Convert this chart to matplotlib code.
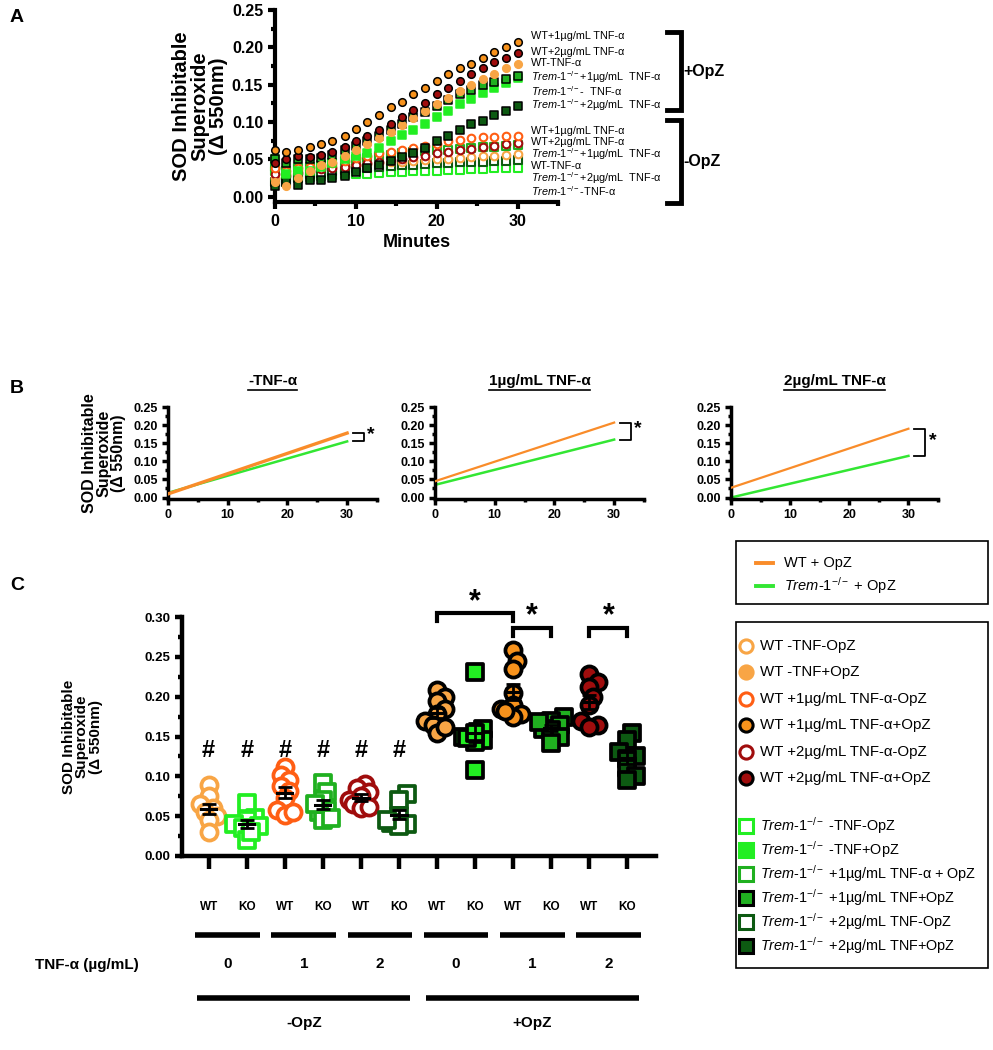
import numpy as np
import matplotlib
matplotlib.use("Agg")
import matplotlib.pyplot as plt
import matplotlib.transforms as mtransforms
from matplotlib.lines import Line2D
from matplotlib.patches import Rectangle
from matplotlib.ticker import MultipleLocator

plt.rcParams['font.family'] = ['Liberation Sans', 'DejaVu Sans']
plt.rcParams['mathtext.fontset'] = 'custom'
plt.rcParams['mathtext.rm'] = 'Liberation Sans'
plt.rcParams['mathtext.it'] = 'Liberation Sans:italic'
plt.rcParams['mathtext.bf'] = 'Liberation Sans:bold'

# colours
c_lo = '#F8A545'   # light orange  (WT -TNF)
c_or = '#FF5E14'   # orange-red    (WT +1ug open)
c_of = '#F7921C'   # orange fill   (WT +1ug +OpZ)
c_dr = '#A00D0D'   # dark red      (WT +2ug)
c_bg = '#22EE22'   # bright green  (KO -TNF)
c_mg = '#20B020'   # mid green     (KO +1ug)
c_dg = '#0D5A12'   # dark green    (KO +2ug)

# ---------------- panel A data ----------------
minutes = [0, 1.4, 2.9, 4.3, 5.7, 7.1, 8.6, 10, 11.4, 12.9, 14.3, 15.7,
           17.1, 18.6, 20, 21.4, 22.9, 24.3, 25.7, 27.1, 28.6, 30]
wt1_opz = [0.062, 0.060, 0.063, 0.066, 0.070, 0.075, 0.082, 0.091, 0.100, 0.110, 0.120,
           0.127, 0.137, 0.146, 0.155, 0.164, 0.172, 0.178, 0.186, 0.194, 0.200, 0.207]
wt2_opz = [0.045, 0.050, 0.055, 0.053, 0.056, 0.060, 0.066, 0.075, 0.082, 0.090, 0.098,
           0.107, 0.116, 0.125, 0.137, 0.145, 0.155, 0.164, 0.173, 0.180, 0.186, 0.193]
wt0_opz = [0.020, 0.015, 0.025, 0.035, 0.042, 0.047, 0.055, 0.062, 0.070, 0.078, 0.087,
           0.096, 0.106, 0.115, 0.124, 0.132, 0.141, 0.150, 0.158, 0.165, 0.172, 0.178]
ko1_opz = [0.050, 0.045, 0.050, 0.050, 0.052, 0.056, 0.063, 0.068, 0.075, 0.082, 0.090,
           0.098, 0.107, 0.114, 0.121, 0.129, 0.137, 0.143, 0.149, 0.154, 0.158, 0.162]
ko0_opz = [0.050, 0.030, 0.035, 0.035, 0.040, 0.045, 0.050, 0.055, 0.058, 0.065, 0.075,
           0.083, 0.090, 0.098, 0.107, 0.115, 0.124, 0.131, 0.139, 0.146, 0.152, 0.159]
ko2_opz = [0.015, 0.020, 0.016, 0.022, 0.023, 0.025, 0.028, 0.033, 0.038, 0.043, 0.048,
           0.053, 0.058, 0.065, 0.075, 0.082, 0.090, 0.097, 0.101, 0.110, 0.115, 0.122]
wt1_no = [0.038, 0.035, 0.038, 0.040, 0.042, 0.045, 0.048, 0.052, 0.055, 0.058, 0.060,
          0.063, 0.065, 0.068, 0.071, 0.074, 0.076, 0.078, 0.080, 0.080, 0.081, 0.082]
wt2_no = [0.030, 0.028, 0.032, 0.035, 0.037, 0.039, 0.040, 0.042, 0.045, 0.047, 0.049,
          0.051, 0.053, 0.055, 0.058, 0.060, 0.062, 0.064, 0.066, 0.068, 0.070, 0.072]
ko1_no = [0.040, 0.035, 0.038, 0.040, 0.042, 0.045, 0.048, 0.050, 0.052, 0.054, 0.056,
          0.058, 0.060, 0.061, 0.062, 0.063, 0.064, 0.065, 0.066, 0.067, 0.068, 0.069]
wt0_no = [0.025, 0.030, 0.035, 0.038, 0.040, 0.041, 0.042, 0.043, 0.044, 0.045, 0.046,
          0.047, 0.048, 0.049, 0.050, 0.051, 0.052, 0.053, 0.054, 0.055, 0.056, 0.057]
ko2_no = [0.020, 0.020, 0.025, 0.030, 0.032, 0.034, 0.036, 0.038, 0.039, 0.040, 0.041,
          0.042, 0.043, 0.044, 0.045, 0.045, 0.046, 0.047, 0.047, 0.048, 0.048, 0.049]
ko0_no = [0.035, 0.025, 0.026, 0.027, 0.028, 0.029, 0.030, 0.030, 0.031, 0.032, 0.033,
          0.033, 0.034, 0.035, 0.035, 0.036, 0.036, 0.037, 0.037, 0.038, 0.038, 0.039]

KO = r'$\it{Trem}$-$\it{1}^{\mathregular{-/-}}$'
labels_opz = ['WT+1µg/mL TNF-α', 'WT+2µg/mL TNF-α', 'WT-TNF-α',
              KO + '+1µg/mL  TNF-α', KO + '-  TNF-α', KO + '+2µg/mL  TNF-α']
labels_no = ['WT+1µg/mL TNF-α', 'WT+2µg/mL TNF-α', KO + '+1µg/mL  TNF-α',
             'WT-TNF-α', KO + '+2µg/mL  TNF-α', KO + '-TNF-α']
label_y_opz = [0.215, 0.194, 0.179, 0.160, 0.142, 0.123]
label_y_no = [0.088, 0.073, 0.057, 0.041, 0.025, 0.007]

# ---------------- panel B data ----------------
fit_titles = ['-TNF-α', '1µg/mL TNF-α', '2µg/mL TNF-α']
fit_x = [0, 30]
wt_fit = [[0.010, 0.178], [0.045, 0.207], [0.027, 0.190]]
ko_fit = [[0.013, 0.155], [0.035, 0.160], [0.000, 0.115]]

# ---------------- panel C data ----------------
genotype = ['WT', 'KO'] * 6
tnf_levels = ['0', '1', '2', '0', '1', '2']
groups = [
    [0.089, 0.075, 0.065, 0.060, 0.055, 0.050, 0.045, 0.030],          # WT -TNF -OpZ
    [0.067, 0.048, 0.045, 0.040, 0.035, 0.038, 0.020, 0.030],          # KO -TNF -OpZ
    [0.112, 0.102, 0.095, 0.088, 0.082, 0.073, 0.058, 0.052, 0.055],   # WT 1 -OpZ
    [0.092, 0.080, 0.070, 0.058, 0.055, 0.045, 0.048, 0.065],          # KO 1 -OpZ
    [0.090, 0.085, 0.080, 0.075, 0.070, 0.065, 0.060, 0.062],          # WT 2 -OpZ
    [0.078, 0.070, 0.050, 0.042, 0.040, 0.038, 0.045],                 # KO 2 -OpZ
    [0.208, 0.200, 0.195, 0.185, 0.178, 0.170, 0.165, 0.155, 0.162],   # WT -TNF +OpZ
    [0.231, 0.160, 0.150, 0.145, 0.143, 0.148, 0.155, 0.108],          # KO -TNF +OpZ
    [0.258, 0.245, 0.235, 0.205, 0.190, 0.185, 0.178, 0.175, 0.182],   # WT 1 +OpZ
    [0.175, 0.170, 0.165, 0.160, 0.158, 0.150, 0.142, 0.168],          # KO 1 +OpZ
    [0.228, 0.218, 0.212, 0.200, 0.190, 0.170, 0.165, 0.162],          # WT 2 +OpZ
    [0.155, 0.145, 0.130, 0.125, 0.122, 0.110, 0.100, 0.095],          # KO 2 +OpZ
]
legend_keys = ['wt0_no', 'wt0_opz', 'wt1_no', 'wt1_opz', 'wt2_no', 'wt2_opz',
               'ko0_no', 'ko0_opz', 'ko1_no', 'ko1_opz', 'ko2_no', 'ko2_opz']
legend_labels = ['WT -TNF-OpZ', 'WT -TNF+OpZ', 'WT +1µg/mL TNF-α-OpZ', 'WT +1µg/mL TNF-α+OpZ',
                 'WT +2µg/mL TNF-α-OpZ', 'WT +2µg/mL TNF-α+OpZ',
                 KO + ' -TNF-OpZ', KO + ' -TNF+OpZ', KO + ' +1µg/mL TNF-α + OpZ',
                 KO + ' +1µg/mL TNF+OpZ', KO + ' +2µg/mL TNF-OpZ', KO + ' +2µg/mL TNF+OpZ']

# marker styles (marker, face, edge)
style = {
    'wt0_no': ('o', 'white', c_lo), 'wt0_opz': ('o', c_lo, c_lo),
    'wt1_no': ('o', 'white', c_or), 'wt1_opz': ('o', c_of, 'black'),
    'wt2_no': ('o', 'white', c_dr), 'wt2_opz': ('o', c_dr, 'black'),
    'ko0_no': ('s', 'white', c_bg), 'ko0_opz': ('s', c_bg, c_bg),
    'ko1_no': ('s', 'white', c_mg), 'ko1_opz': ('s', c_mg, 'black'),
    'ko2_no': ('s', 'white', c_dg), 'ko2_opz': ('s', c_dg, 'black'),
}

W, H = 993, 1050
fig = plt.figure(figsize=(W / 100, H / 100), dpi=100)


def box(x0, y0, x1, y1):
    return [x0 / W, 1 - y1 / H, (x1 - x0) / W, (y1 - y0) / H]


def fx(x):
    return x / W


def fy(y):
    return 1 - y / H


def prism(ax, lw=2.5):
    for s in ['top', 'right']:
        ax.spines[s].set_visible(False)
    for s in ['left', 'bottom']:
        ax.spines[s].set_linewidth(lw)
    ax.tick_params(which='major', width=lw, length=5, direction='out')
    ax.tick_params(which='minor', width=lw, length=3, direction='out')
    for t in ax.get_xticklabels() + ax.get_yticklabels():
        t.set_fontweight('bold')


ylab = 'SOD Inhibitable\nSuperoxide\n(Δ 550nm)'

# ================= panel A =================
axA = fig.add_axes(box(275, 10, 558, 202))
seriesA = [('wt1_opz', wt1_opz), ('wt2_opz', wt2_opz), ('wt0_opz', wt0_opz),
           ('ko1_opz', ko1_opz), ('ko0_opz', ko0_opz), ('ko2_opz', ko2_opz),
           ('wt1_no', wt1_no), ('wt2_no', wt2_no), ('ko1_no', ko1_no),
           ('wt0_no', wt0_no), ('ko2_no', ko2_no), ('ko0_no', ko0_no)]
for key, vals in seriesA[::-1]:
    m, fc, ec = style[key]
    lw = 1.5 if fc == 'white' else 1.1
    axA.scatter(minutes, vals, marker=m, s=30, facecolor=fc, edgecolor=ec,
                linewidth=lw, zorder=3, clip_on=False)
axA.set_xlim(0, 35)
axA.set_ylim(-0.007, 0.25)
axA.set_xticks([0, 10, 20, 30])
axA.xaxis.set_minor_locator(MultipleLocator(5))
axA.set_yticks([0, 0.05, 0.10, 0.15, 0.20, 0.25])
axA.yaxis.set_minor_locator(MultipleLocator(0.025))
axA.set_yticklabels(['0.00', '0.05', '0.10', '0.15', '0.20', '0.25'])
axA.tick_params(labelsize=11.5)
prism(axA, 3)
axA.set_xlabel('Minutes', fontsize=13, fontweight='bold', labelpad=4)
axA.set_ylabel(ylab, fontsize=14.5, fontweight='bold', linespacing=0.95, labelpad=3)
for lab, y in zip(labels_opz + labels_no, label_y_opz + label_y_no):
    axA.text(31.6, y, lab, fontsize=7.8, va='center', ha='left', clip_on=False)
# brackets
trA = mtransforms.blended_transform_factory(fig.transFigure, axA.transData)
for (y0, y1, txt) in [(0.2206, 0.116, '+OpZ'), (0.103, -0.008, '-OpZ')]:
    x0, x1 = fx(667), fx(681)
    axA.plot([x0, x1, x1, x0], [y0, y0, y1, y1], color='black', lw=3.5,
             transform=trA, clip_on=False, solid_joinstyle='miter')
    axA.text(fx(683), (y0 + y1) / 2, txt, transform=trA, fontsize=11.5,
             fontweight='bold', va='center', ha='left')

# ================= panel B =================
bx = [(168, 377), (435, 644), (731, 938)]
for i in range(3):
    ax = fig.add_axes(box(bx[i][0], 407, bx[i][1], 499))
    ax.plot(fit_x, wt_fit[i], color='#F98C2A', lw=2.4 if i == 0 else 1.6, zorder=3)
    ax.plot(fit_x, ko_fit[i], color='#33E633', lw=1.8, zorder=2)
    ax.set_xlim(0, 35)
    ax.set_ylim(-0.004, 0.25)
    ax.set_xticks([0, 10, 20, 30])
    ax.xaxis.set_minor_locator(MultipleLocator(5))
    ax.set_yticks([0, 0.05, 0.10, 0.15, 0.20, 0.25])
    ax.set_yticklabels(['0.00', '0.05', '0.10', '0.15', '0.20', '0.25'])
    ax.yaxis.set_minor_locator(MultipleLocator(0.025))
    ax.tick_params(labelsize=9)
    prism(ax, 2.5)
    ax.tick_params(which='major', length=4)
    ax.tick_params(which='minor', length=2.5)
    # significance bracket
    yt, yb = wt_fit[i][1], ko_fit[i][1]
    ax.plot([31, 32.8, 32.8, 31], [yt, yt, yb, yb], color='black', lw=1.3, clip_on=False)
    ax.text(33.4, (yt + yb) / 2 + 0.006, '*', fontsize=14, fontweight='bold',
            va='center', ha='left', clip_on=False)
    t = ax.text(0.5, 1.28, fit_titles[i], transform=ax.transAxes, ha='center',
                va='center', fontsize=11, fontweight='bold')
    fig.canvas.draw()
    bb = t.get_window_extent().transformed(fig.transFigure.inverted())
    fig.add_artist(Line2D([bb.x0, bb.x1], [bb.y0 - 0.002, bb.y0 - 0.002],
                          color='black', lw=1.2, transform=fig.transFigure))
    if i == 0:
        ax.set_ylabel(ylab, fontsize=11.5, fontweight='bold', linespacing=0.95, labelpad=5)

# ================= panel C =================
axC = fig.add_axes(box(182, 617, 656, 856))
keysC = ['wt0_no', 'ko0_no', 'wt1_no', 'ko1_no', 'wt2_no', 'ko2_no',
         'wt0_opz', 'ko0_opz', 'wt1_opz', 'ko1_opz', 'wt2_opz', 'ko2_opz']


def swarm(vals, dx, dy):
    order = np.argsort(vals)
    placed = []
    xs = np.zeros(len(vals))
    for idx in order:
        v = vals[idx]
        for k in [0, 1, -1, 2, -2, 3, -3]:
            x = k * dx * 0.3
            ok = all(((x - px) / dx) ** 2 + ((v - py) / dy) ** 2 >= 0.3 for px, py in placed)
            if ok:
                break
        placed.append((x, v))
        xs[idx] = x
    return xs


for i, (key, vals) in enumerate(zip(keysC, groups)):
    m, fc, ec = style[key]
    vals = np.array(vals)
    off = swarm(vals, 0.36, 0.019)
    if fc != 'white' and ec == fc:
        ec = 'black'
    axC.scatter(i + off, vals, marker=m, s=135 if m == 'o' else 145, facecolor=fc,
                edgecolor=ec, linewidth=2.7, zorder=3, clip_on=False)
    mean = vals.mean()
    sem = vals.std(ddof=1) / np.sqrt(len(vals))
    axC.errorbar([i], [mean], yerr=[sem], color='black', capsize=5, capthick=2,
                 elinewidth=2, zorder=4)
    axC.plot([i - 0.2, i + 0.2], [mean, mean], color='black', lw=2.2, zorder=4)

axC.set_xlim(-0.7, 11.75)
axC.set_ylim(0, 0.30)
axC.set_xticks(range(12))
axC.set_xticklabels([''] * 12)
axC.set_yticks([0, 0.05, 0.10, 0.15, 0.20, 0.25, 0.30])
axC.set_yticklabels(['0.00', '0.05', '0.10', '0.15', '0.20', '0.25', '0.30'])
axC.yaxis.set_minor_locator(MultipleLocator(0.025))
axC.tick_params(labelsize=9.5)
prism(axC, 3.2)
axC.tick_params(axis='x', which='major', length=9, width=3.2)
axC.set_ylabel(ylab, fontsize=11, fontweight='bold', linespacing=0.95, labelpad=30)

# '#' above -OpZ groups
for i in range(6):
    axC.text(i, 0.132, '#', fontsize=17, fontweight='bold', ha='center', va='center')
# significance brackets
for (a, b, y, ystar) in [(6, 8, 0.305, 0.319), (8, 9, 0.286, 0.301), (10, 11, 0.286, 0.301)]:
    axC.plot([a, a, b, b], [y - 0.010, y, y, y - 0.010], color='black', lw=3,
             clip_on=False, solid_joinstyle='miter')
    axC.text((a + b) / 2, ystar, '*', fontsize=22, fontweight='bold', ha='center',
             va='center', clip_on=False)

trC = mtransforms.blended_transform_factory(axC.transData, axC.transAxes)
for i, g in enumerate(genotype):
    axC.text(i, -0.215, g, transform=trC, fontsize=8.5, fontweight='bold',
             ha='center', va='center')
for j, lev in enumerate(tnf_levels):
    axC.plot([2 * j - 0.35, 2 * j + 1.35], [-0.33, -0.33], color='black', lw=4,
             transform=trC, clip_on=False, solid_capstyle='butt')
    axC.text(2 * j + 0.5, -0.45, lev, transform=trC, fontsize=11, fontweight='bold',
             ha='center', va='center')
fig.text(fx(35), fy(965), 'TNF-α (µg/mL)', fontsize=11, fontweight='bold',
         ha='left', va='center')
for (a, b, lab) in [(-0.3, 5.3, '-OpZ'), (5.7, 11.3, '+OpZ')]:
    axC.plot([a, b], [-0.595, -0.595], color='black', lw=4, transform=trC,
             clip_on=False, solid_capstyle='butt')
    axC.text((a + b) / 2, -0.70, lab, transform=trC, fontsize=11, fontweight='bold',
             ha='center', va='center')

# ---------------- legends (drawn as framed boxes) ----------------
for (y0, y1) in [(541, 604), (622, 968)]:
    fig.add_artist(Rectangle((fx(736), fy(y1)), fx(988) - fx(736), fy(y0) - fy(y1),
                             transform=fig.transFigure, fill=False, edgecolor='black',
                             lw=1.2))
for y, col, lab in [(563, '#F98C2A', 'WT + OpZ'), (586, '#33E633', KO + ' + OpZ')]:
    fig.add_artist(Line2D([fx(756), fx(773)], [fy(y), fy(y)], color=col, lw=2.8,
                          transform=fig.transFigure))
    fig.text(fx(784), fy(y), lab, fontsize=10.5, ha='left', va='center')

rows_y = [646, 672, 699, 725, 752, 778, 826, 850, 874, 898, 922, 946]
for y, k, lab in zip(rows_y, legend_keys, legend_labels):
    m, fc, ec = style[k]
    fig.add_artist(Line2D([fx(746)], [fy(y)], linestyle='none', marker=m, markersize=9.5,
                          markerfacecolor=fc, markeredgecolor=ec, markeredgewidth=2.2,
                          transform=fig.transFigure))
    fig.text(fx(760), fy(y), lab, fontsize=10.8 if k.startswith('wt') else 10.4,
             ha='left', va='center')

# panel letters
for (x, y, s) in [(10, 18, 'A'), (10, 388, 'B'), (10, 586, 'C')]:
    fig.text(fx(x), fy(y), s, fontsize=14, fontweight='bold', ha='left', va='center')

fig.savefig('out.png', dpi=100)
